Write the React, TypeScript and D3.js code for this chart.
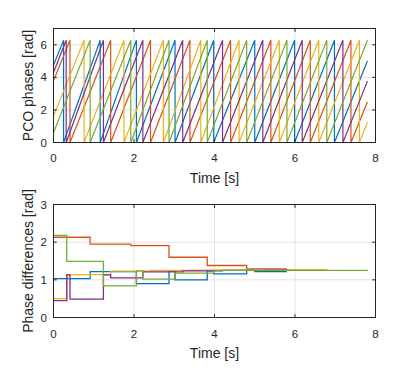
import React from "react";
import * as d3 from "d3";

const TWO_PI = 2 * Math.PI;
const END_TIME = 7.8;

// Top chart: PCO phases (initial phase, firing/reset times, final phase)
const seriesNames = ["blue", "orange", "yellow", "purple", "green"];
const colors = ["#0072BD", "#D95319", "#EDB120", "#7E2F8E", "#77AC30"];
const initialPhases = [4.75, 3.8, 1.62, 4.3, 0.6];
const finalPhases = [5.0, 2.5, 1.25, 3.77, 6.28];
const blueFires = [0.25, 1.16, 2.06, 3.02, 3.98, 5.0, 5.99, 6.98];
const orangeFires = [0.41, 1.42, 2.41, 3.39, 4.4, 5.4, 6.38, 7.39];
const yellowFires = [0.76, 1.75, 2.73, 3.66, 4.61, 5.61, 6.59, 7.6];
const purpleFires = [0.315, 1.24, 2.22, 3.21, 4.2, 5.2, 6.18, 7.19];
const greenFires = [0.91, 1.92, 2.87, 3.82, 4.8, 5.8, 6.79];
const fireTimes = [blueFires, orangeFires, yellowFires, purpleFires, greenFires];

// Bottom chart: phase differences (stairs: change times and values)
const diffBlueT = [0, 0.91, 2.06, 2.87, 3.02, 3.82, 3.98, 4.8, 5.0, 5.8];
const diffBlueV = [1.03, 1.22, 0.9, 1.23, 1.0, 1.24, 1.16, 1.25, 1.22, 1.22];
const diffOrangeT = [0, 0.91, 1.92, 2.87, 3.82, 4.8, 5.8];
const diffOrangeV = [2.13, 1.95, 1.91, 1.6, 1.38, 1.29, 1.29];
const diffYellowT = [0, 0.33, 1.42, 2.41, 3.39, 4.4, 5.4, 6.8];
const diffYellowV = [0.5, 1.14, 1.23, 1.25, 1.26, 1.26, 1.27, 1.27];
const diffPurpleT = [0, 0.33, 0.41, 1.24, 1.42, 2.22, 3.21, 4.2, 5.2, 5.8];
const diffPurpleV = [0.45, 1.13, 0.49, 1.13, 1.05, 1.21, 1.24, 1.25, 1.26, 1.26];
const diffGreenT = [0, 0.33, 1.24, 2.06, 2.22, 3.02, 3.98, 7.8];
const diffGreenV = [2.18, 1.49, 0.84, 1.24, 1.02, 1.18, 1.25, 1.257];
const diffTimes = [diffBlueT, diffOrangeT, diffYellowT, diffPurpleT, diffGreenT];
const diffValues = [diffBlueV, diffOrangeV, diffYellowV, diffPurpleV, diffGreenV];

const xTicks = [0, 2, 4, 6, 8];
const topYTicks = [0, 2, 4, 6];
const botYTicks = [0, 1, 2, 3];

const FONT = "'Liberation Sans', Arial, Helvetica, sans-serif";
const AX = "#262626";
const GRID = "#E3E3E3";

function Axes({ top, bottom, yMax, yTicks, ylabel, children, xlabelY, xtickY }: any) {
  const x = d3.scaleLinear().domain([0, 8]).range([53.5, 375.5]);
  const y = d3.scaleLinear().domain([0, yMax]).range([bottom, top]);
  const L = 53.5, R = 375.5;
  const tl = 3.3;
  return (
    <g>
      {xTicks.filter((t) => t > 0 && t < 8).map((t) => (
        <line key={"gx" + t} x1={x(t)} x2={x(t)} y1={top} y2={bottom} stroke={GRID} strokeWidth={1} />
      ))}
      {yTicks.filter((t) => t > 0 && t < yMax).map((t) => (
        <line key={"gy" + t} x1={L} x2={R} y1={y(t)} y2={y(t)} stroke={GRID} strokeWidth={1} />
      ))}
      <g>{children(x, y)}</g>
      <rect x={L} y={top} width={R - L} height={bottom - top} fill="none" stroke={AX} strokeWidth={1} />
      {xTicks.map((t) => (
        <g key={"tx" + t}>
          <line x1={x(t)} x2={x(t)} y1={bottom} y2={bottom - tl} stroke={AX} />
          <line x1={x(t)} x2={x(t)} y1={top} y2={top + tl} stroke={AX} />
          <text x={x(t)} y={xtickY} textAnchor="middle" fontSize={11.5} fill={AX} fontFamily={FONT}>{t}</text>
        </g>
      ))}
      {yTicks.map((t) => (
        <g key={"ty" + t}>
          <line x1={L} x2={L + tl} y1={y(t)} y2={y(t)} stroke={AX} />
          <line x1={R} x2={R - tl} y1={y(t)} y2={y(t)} stroke={AX} />
          <text x={47} y={y(t) + 4} textAnchor="end" fontSize={11.5} fill={AX} fontFamily={FONT}>{t}</text>
        </g>
      ))}
      <text x={(L + R) / 2} y={xlabelY} textAnchor="middle" fontSize={14} fill={AX} fontFamily={FONT}>Time [s]</text>
      <text transform={`translate(32.5,${(top + bottom) / 2}) rotate(-90)`} textAnchor="middle" fontSize={14} fill={AX} fontFamily={FONT}>{ylabel}</text>
    </g>
  );
}

export default function App() {
  const phasePoints = fireTimes.map((fires, i) => {
    const pts: [number, number][] = [[0, initialPhases[i]]];
    fires.forEach((f) => {
      pts.push([f, TWO_PI]);
      pts.push([f, 0]);
    });
    pts.push([END_TIME, finalPhases[i]]);
    return pts;
  });
  const diffPoints = diffTimes.map((ts, i) => ts.map((t, j) => [t, diffValues[i][j]] as [number, number]));

  return (
    <svg width={415} height={372} style={{ position: "absolute", left: 0, top: 0, background: "#fff" }}>
      <rect width={415} height={372} fill="#fff" />
      <Axes top={28.5} bottom={142.5} yMax={7} yTicks={topYTicks} ylabel="PCO phases [rad]" xtickY={162} xlabelY={183}>
        {(x: any, y: any) => {
          const line = d3.line<[number, number]>().x((d) => x(d[0])).y((d) => y(d[1]));
          return phasePoints.map((pts, i) => (
            <path key={seriesNames[i]} d={line(pts) || ""} fill="none" stroke={colors[i]} strokeWidth={1.2} />
          ));
        }}
      </Axes>
      <Axes top={204.5} bottom={317.5} yMax={3} yTicks={botYTicks} ylabel="Phase differences [rad]" xtickY={338} xlabelY={358}>
        {(x: any, y: any) => {
          const line = d3.line<[number, number]>().x((d) => x(d[0])).y((d) => y(d[1])).curve(d3.curveStepAfter);
          return diffPoints.map((pts, i) => (
            <path key={seriesNames[i]} d={line(pts) || ""} fill="none" stroke={colors[i]} strokeWidth={1.3} />
          ));
        }}
      </Axes>
    </svg>
  );
}
